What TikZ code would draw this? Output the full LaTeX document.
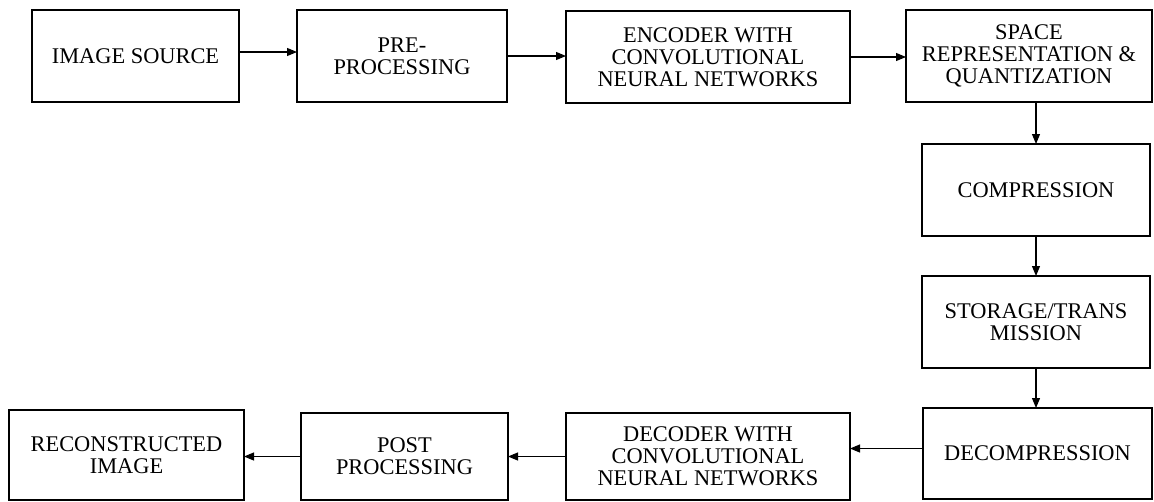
\documentclass[tikz,border=0pt]{standalone}
\usepackage{fontspec}
\setmainfont{Liberation Serif}
\usepackage{tikz}
\usetikzlibrary{arrows.meta,positioning}

\begin{document}
\begin{tikzpicture}[x=1pt, y=1pt, >={Triangle[length=10pt, width=8pt]},
  font=\fontsize{22.4}{22}\selectfont,
  block/.style={draw, line width=1.6pt, outer sep=0pt, align=center, minimum height=92pt, inner sep=2pt},
  flow/.style={->, line width=1.1pt}]
  \useasboundingbox (0,0) rectangle (1154,-501);
  % top row
  \node[block, minimum width=207pt] (src) at (135.5,-56) {IMAGE SOURCE};
  \node[block, minimum width=210pt, right=58pt of src] (pre) {PRE-\\PROCESSING};
  \node[block, minimum width=284pt, right=59pt of pre, yshift=-1pt] (enc) {ENCODER WITH\\CONVOLUTIONAL\\NEURAL NETWORKS};
  \node[block, minimum width=246pt, right=56pt of enc, yshift=1pt] (spc) {SPACE\\REPRESENTATION \&\\QUANTIZATION};
  % right column
  \node[block, minimum width=228pt, below=42pt of spc, xshift=7pt] (cmp) {COMPRESSION};
  \node[block, minimum width=228pt, below=40pt of cmp] (sto) {STORAGE/TRANS\\MISSION};
  \node[block, minimum width=229pt, minimum height=91pt, below=40pt of sto, xshift=1.5pt] (dcmp) {DECOMPRESSION};
  % bottom row
  \node[block, minimum width=284pt, minimum height=87pt, left=73pt of dcmp, yshift=-3pt] (dcd) {DECODER WITH\\CONVOLUTIONAL\\NEURAL NETWORKS};
  \node[block, minimum width=207pt, minimum height=87pt, left=58pt of dcd] (post) {POST\\PROCESSING};
  \node[block, minimum width=235pt, minimum height=90pt, left=57pt of post, yshift=1.5pt] (rec) {RECONSTRUCTED\\IMAGE};
  % connectors
  \draw[flow] ([yshift=4pt]src.east) -- ([yshift=4pt]src.east -| pre.west);
  \draw[flow] (pre.east) -- (pre.east -| enc.west);
  \draw[flow] (enc.east) -- (enc.east -| spc.west);
  \draw[flow] (cmp.north |- spc.south) -- (cmp.north);
  \draw[flow] (cmp) -- (sto);
  \draw[flow] (sto.south) -- (sto.south |- dcmp.north);
  \draw[flow] ([yshift=5pt]dcmp.west) -- ([yshift=5pt]dcmp.west -| dcd.east);
  \draw[flow] (dcd.west) -- (dcd.west -| post.east);
  \draw[flow] (post.west) -- (post.west -| rec.east);
\end{tikzpicture}
\end{document}
